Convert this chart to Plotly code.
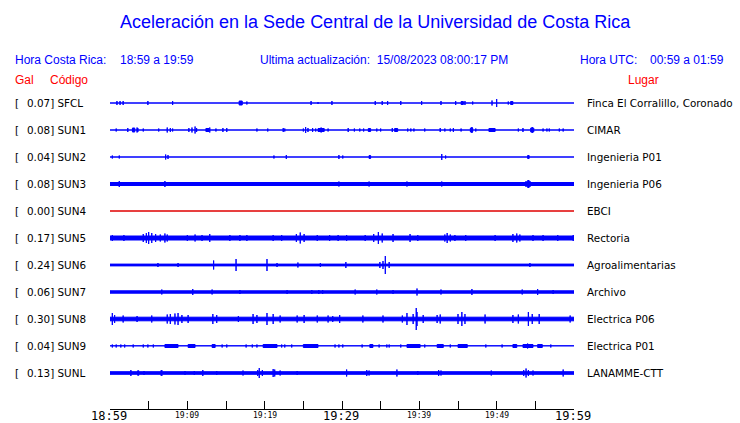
import plotly.graph_objects as go

# ---------------- data ----------------
TITLE = "Aceleración en la Sede Central de la Universidad de Costa Rica"
HORA_CR = "18:59 a 19:59"
HORA_UTC = "00:59 a 01:59"
UPDATED = "15/08/2023 08:00:17 PM"

CODES = ["SFCL", "SUN1", "SUN2", "SUN3", "SUN4", "SUN5", "SUN6", "SUN7", "SUN8", "SUN9", "SUNL"]
PGA = [0.07, 0.08, 0.04, 0.08, 0.00, 0.17, 0.24, 0.06, 0.30, 0.04, 0.13]
PLACES = ["Finca El Corralillo, Coronado", "CIMAR", "Ingenieria P01", "Ingenieria P06", "EBCI",
          "Rectoria", "Agroalimentarias", "Archivo", "Electrica P06", "Electrica P01", "LANAMME-CTT"]
# background noise half-amplitude of each trace
NOISE = [0, 0, 0, 1.5, 0, 2.0, 0.9, 1.2, 1.8, 0.2, 1.3]

# events: (minute, half amplitude) or (start minute, end minute, half amplitude)
EV_SFCL = [(0.9, 2), (1.3, 2), (1.7, 2), (4.9, 2), (8.1, 2), (16.7, 17.1, 2), (17.7, 1.5),
           (26.0, 2), (26.9, 1), (28.7, 2), (34.3, 2), (35.2, 2), (35.9, 2), (37.6, 2), (40.3, 2),
           (42.8, 2), (44.7, 2), (45.4, 45.7, 1.5), (45.9, 2), (46.9, 1.5), (49.4, 2.5), (50.0, 4),
           (51.5, 1.5), (51.8, 52.1, 1.5)]
EV_SUN1 = [(0.8, 1.5), (2.3, 2), (2.9, 3.2, 2), (3.5, 2.5), (3.6, 2), (4.3, 1.5), (6.3, 1.5),
           (7.4, 2.5), (7.8, 2), (8.1, 1.5), (10.2, 2), (10.6, 2.5), (11.0, 3.5), (11.2, 2),
           (12.4, 12.8, 1.5), (12.9, 2.5), (13.7, 1.5), (14.6, 2), (15.1, 2), (19.0, 1.5), (20.4, 1.5),
           (22.4, 2), (22.6, 1.5), (25.0, 1.5), (25.3, 3), (25.6, 2), (26.2, 2), (26.6, 1.5),
           (26.9, 27.7, 1.5), (27.3, 2.5), (28.2, 1.5), (30.8, 2), (31.6, 1.5), (32.3, 1.5), (32.8, 1.5),
           (33.4, 33.7, 1.5), (34.5, 1.5), (35.0, 1.5), (36.5, 2), (36.8, 37.2, 1.5), (38.5, 1.5),
           (38.9, 1.5), (39.3, 1.5), (40.7, 1.5), (42.7, 2), (43.3, 1.5), (44.0, 1.5), (44.4, 2),
           (45.4, 1.5), (46.6, 46.9, 2), (46.8, 3), (47.3, 1.5), (49.0, 49.8, 1.5), (52.8, 1.5),
           (53.4, 2), (54.4, 54.8, 2), (54.6, 3), (56.0, 1.5), (56.5, 1.5), (56.8, 1.5), (58.1, 1.5),
           (58.6, 1.5)]
EV_SUN2 = [(0.3, 1.5), (1.2, 1.5), (7.2, 2.5), (7.5, 2), (21.2, 1.5), (22.8, 2), (29.6, 2),
           (30.1, 1.5), (33.5, 33.7, 1.5), (42.9, 3), (43.4, 1.5), (54.0, 54.2, 1.5)]
EV_SUN3 = [(1.2, 3), (7.1, 3), (29.6, 2.5), (33.5, 2.5), (38.4, 2.5), (42.9, 2.5),
           (53.8, 3), (54.0, 54.2, 3.5), (54.3, 3)]
EV_SUN4 = []
EV_SUN5 = [(0.3, 3), (1.8, 3), (4.3, 4), (4.7, 5), (5.0, 6), (5.4, 5), (5.9, 4), (6.5, 3.5),
           (7.1, 4.5), (7.4, 3.5), (10.0, 3), (11.0, 3.5), (11.9, 3), (12.9, 4), (15.5, 3),
           (16.8, 3), (17.7, 3), (21.1, 3), (22.2, 3), (24.1, 4), (24.6, 5.5), (25.1, 4), (26.8, 3),
           (28.4, 3), (29.5, 3), (30.6, 3), (33.0, 3), (34.1, 4), (34.7, 6), (35.2, 4.5), (36.6, 4),
           (38.8, 4), (39.8, 3), (43.3, 3.5), (43.6, 5), (44.0, 3.5), (44.6, 3), (46.0, 3),
           (49.8, 3), (52.1, 4), (52.6, 4.5), (53.0, 3.5), (54.7, 3), (56.0, 3), (57.9, 3), (59.9, 3)]
EV_SUN6 = [(6.2, 2), (8.8, 2), (13.4, 4.5), (16.3, 6), (20.3, 6), (21.6, 2), (24.3, 2.5),
           (27.2, 2), (30.5, 3), (34.9, 3), (35.3, 4), (35.6, 9), (36.1, 3), (54.3, 2)]
EV_SUN7 = [(6.7, 2.5), (10.7, 3), (13.2, 2.5), (16.8, 2), (22.9, 2), (26.1, 2), (27.0, 2),
           (27.5, 2), (31.7, 2.5), (34.5, 2.5), (36.6, 2), (39.7, 3.5), (42.8, 2.5), (46.8, 3),
           (53.3, 2.5), (55.3, 3), (57.3, 2)]
EV_SUN8 = [(0.3, 6), (0.6, 4), (1.7, 3.5), (3.5, 3), (5.4, 3.5), (7.4, 4.5), (7.8, 5), (8.4, 5.5),
           (8.8, 6), (9.3, 4), (10.1, 4), (13.3, 5), (13.8, 4), (16.6, 3), (18.5, 5), (19.0, 4),
           (20.3, 6), (21.1, 5), (22.0, 3.5), (24.2, 3.5), (25.1, 4), (26.8, 3.5), (28.2, 3.5),
           (28.8, 3), (29.7, 4), (32.7, 3.5), (35.3, 3.5), (37.8, 3.5), (38.4, 6), (39.2, 5),
           (39.6, 11), (39.7, 7), (40.5, 4), (42.3, 4), (42.7, 4.5), (45.0, 5), (45.5, 7), (45.9, 5),
           (48.5, 4.5), (52.1, 4), (52.8, 4.5), (54.1, 7), (54.6, 5), (55.5, 5), (59.5, 3.5)]
EV_SUN9 = [(0.3, 1.5), (0.8, 1.5), (1.4, 1.5), (1.9, 1.5), (3.0, 1.5), (4.3, 1.5), (4.9, 1.5),
           (5.6, 1.5), (7.1, 8.8, 1.5), (10.1, 11.0, 1.5), (13.2, 13.6, 1.5), (14.5, 1.5), (15.1, 1.5),
           (17.6, 1.5), (18.4, 1.5), (19.0, 1.5), (19.8, 21.6, 1.5), (22.2, 1.5), (22.6, 1.5),
           (23.5, 1.5), (25.0, 26.9, 1.5), (29.1, 1.5), (29.6, 1.5), (30.1, 1.5), (32.6, 1.5),
           (33.6, 34.0, 1.5), (34.8, 1.5), (35.8, 1.5), (36.1, 1.5), (37.6, 1.5), (38.4, 40.1, 1.5),
           (40.7, 1.5), (42.3, 43.1, 1.5), (44.0, 1.5), (45.0, 46.2, 1.5), (48.6, 1.5), (50.7, 1.5),
           (52.1, 52.6, 1.5), (53.4, 54.7, 1.5), (54.0, 2.5), (55.3, 55.9, 1.5), (57.0, 1.5)]
EV_SUNL = [(2.7, 3), (3.6, 2.5), (3.7, 2.5), (4.4, 2), (6.6, 2.5), (6.7, 3), (9.7, 2), (10.9, 2),
           (12.0, 3), (13.8, 2), (17.2, 2.5), (19.1, 3), (19.3, 5), (19.7, 3), (21.1, 4), (21.3, 3.5),
           (22.0, 2.5), (24.2, 2), (30.6, 3.5), (33.2, 3), (33.5, 2.5), (37.1, 3.5), (39.8, 2),
           (42.5, 3), (42.8, 2.5), (49.3, 2.5), (53.5, 3), (53.8, 4.5), (54.1, 3), (54.7, 2.5),
           (58.6, 3.5)]

TICK_MIN = list(range(0, 61, 5))
LABEL_MIN = [0, 10, 20, 30, 40, 50, 60]
LABEL_TXT = ["18:59", "19:09", "19:19", "19:29", "19:39", "19:49", "19:59"]
LABEL_BIG = [True, False, False, True, False, False, True]

EVENTS = [EV_SFCL, EV_SUN1, EV_SUN2, EV_SUN3, EV_SUN4, EV_SUN5, EV_SUN6, EV_SUN7, EV_SUN8,
          EV_SUN9, EV_SUNL]

# ---------------- drawing ----------------
W, H = 740, 423
X0, X1 = 110, 574          # plot area (px)
AXIS_Y = 409               # time axis line (px)
ROW0, ROW_STEP = 103, 27   # first trace centre, spacing (px)
BLUE = "#0000ff"
RED = "#ff0000"

fig = go.Figure()

for i, code in enumerate(CODES):
    c = ROW0 + ROW_STEP * i
    color = "#e00000" if PGA[i] == 0 else BLUE
    xs, ys = [], []

    def rect(t0, t1, h):
        xs.extend([t0, t1, t1, t0, t0, None])
        ys.extend([c - h, c - h, c + h, c + h, c - h, None])

    rect(0, 60, NOISE[i])
    for ev in EVENTS[i]:
        if len(ev) == 2:
            rect(ev[0], ev[0], ev[1])
        else:
            rect(ev[0], ev[1], ev[2])
    fig.add_trace(go.Scatter(x=xs, y=ys, mode="lines", fill="toself", fillcolor=color,
                             line=dict(color=color, width=1), hoverinfo="skip",
                             showlegend=False))

ann = []


def text(t, px, py, size, color, family="Liberation Sans, Arial, sans-serif", xanchor="left"):
    if xanchor == "left":
        px -= 1
    ann.append(dict(text=t, x=px / W, y=1 - py / H, xref="paper", yref="paper",
                    xanchor=xanchor, yanchor="middle", showarrow=False, borderpad=0,
                    font=dict(size=size, color=color, family=family)))


text(TITLE, 375, 22, 18, BLUE, xanchor="center")
text("Hora Costa Rica:", 15, 60, 12, BLUE)
text(HORA_CR, 120, 60, 12, BLUE)
text("Ultima actualización:  " + UPDATED, 260, 60, 12, BLUE)
text("Hora UTC:", 580, 60, 12, BLUE)
text(HORA_UTC, 650, 60, 12, BLUE)
text("Gal", 15, 80, 12, RED)
text("Código", 50, 80, 12, RED)
text("Lugar", 628, 80, 12, RED)

DV = "DejaVu Sans, sans-serif"
for i, code in enumerate(CODES):
    c = ROW0 + ROW_STEP * i
    text("[", 15, c, 10.4, "black", DV)
    text(f"{PGA[i]:.2f}] {code}", 27, c, 10.4, "black", DV)
    text(PLACES[i], 587, c, 10.4, "black", DV)

for m, lab, big in zip(LABEL_MIN, LABEL_TXT, LABEL_BIG):
    px = X0 + (X1 - X0) * m / 60
    text(lab, px - (1.5 if big else 0), 416 if big else 415.5, 12 if big else 8, "black",
         "DejaVu Sans Mono, monospace", xanchor="center")

fig.update_layout(
    width=W, height=H, margin=dict(l=0, r=0, t=0, b=0),
    paper_bgcolor="white", plot_bgcolor="white", showlegend=False,
    annotations=ann,
    xaxis=dict(domain=[X0 / W, X1 / W], range=[0, 60], showgrid=False, zeroline=False,
               showline=True, linecolor="black", linewidth=1, ticks="inside",
               tickvals=TICK_MIN, ticklen=8, tickcolor="black", tickwidth=1,
               showticklabels=False, fixedrange=True),
    yaxis=dict(domain=[(H - AXIS_Y) / H, 1], range=[AXIS_Y, 0], visible=False,
               fixedrange=True),
)

fig.write_html("out.html", config={"displayModeBar": False},
               post_script="document.body.style.margin='0px';document.body.style.overflow='hidden';")
